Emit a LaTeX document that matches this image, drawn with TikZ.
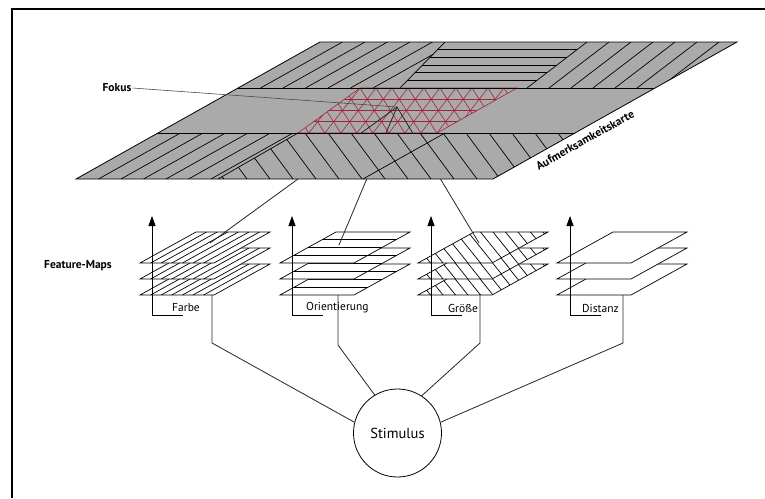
\documentclass[tikz,border=0pt]{standalone}
\usepackage{fontspec}
\setmainfont{PT Sans}
\usetikzlibrary{arrows.meta,calc}
\definecolor{mapgray}{RGB}{170,170,170}
\definecolor{focusred}{RGB}{165,35,55}
\tikzset{
  edge/.style={line width=0.8pt, black},
  stripe/.style={line width=0.7pt, black},
  redline/.style={line width=0.6pt, focusred},
  layer/.style={draw=black, line width=0.7pt},
  conn/.style={line width=0.8pt, black!85},
  uparrow/.style={line width=0.8pt, -{Triangle[width=7pt,length=10pt]}},
  lbl/.style={font=\fontsize{11.5}{13}\selectfont, inner sep=1pt},
  blbl/.style={font=\bfseries\fontsize{11.5}{13}\selectfont, inner sep=1pt},
}
% one feature layer: #1 = x of lower-left corner, #2 = y of lower edge, #3 = stripe code
\newcommand{\fmlayer}[3]{%
  \fill[white] (#1,#2) -- ++(74,0) -- ++(56,-31) -- ++(-74,0) -- cycle;
  \begin{scope}
    \clip (#1,#2) -- ++(74,0) -- ++(56,-31) -- ++(-74,0) -- cycle;
    #3{#1}{#2}
  \end{scope}
  \draw[layer] (#1,#2) -- ++(74,0) -- ++(56,-31) -- ++(-74,0) -- cycle;
}
\newcommand{\slashstripes}[2]{\foreach \k in {1,...,6} \draw[stripe] (#1+\k*10.6,#2) -- ++(56,-31);}
\newcommand{\flatstripes}[2]{\foreach \k in {1,2,3} \draw[stripe] (#1-10,#2-\k*7.75) -- ++(160,0);}
\newcommand{\backstripes}[2]{\foreach \k in {-3,...,11} \draw[stripe] (#1+\k*12.5,#2-31) -- ++(25,31);}
\newcommand{\nostripes}[2]{}
% a stack of three layers
\newcommand{\fmstack}[2]{%
  \fmlayer{#1}{295}{#2}
  \fmlayer{#1}{279}{#2}
  \fmlayer{#1}{263}{#2}
}
\begin{document}
\begin{tikzpicture}[x=1pt,y=-1pt]
\useasboundingbox (0,0) rectangle (765,498);
\fill[white] (0,0) rectangle (765,498);
% frame
\draw[line width=2pt] (11.5,498) -- (11.5,8.5) -- (765,8.5);

% ---------- attention map ----------
\coordinate (TL) at (320,42);
\coordinate (TR) at (737,42);
\coordinate (BR) at (493,179);
\coordinate (BL) at (76,179);
\fill[mapgray] (TL) -- (TR) -- (BR) -- (BL) -- cycle;

% upper band, left part
\begin{scope}
  \clip (320,42) -- (445,42) -- (400,88) -- (238,88) -- cycle;
  \foreach \k in {1,...,6} \draw[stripe] (320+22.5*\k,42) -- ++(-82,46);
\end{scope}
% upper band, horizontal block
\begin{scope}
  \clip (445,42) -- (587,42) -- (527,88) -- (400,88) -- cycle;
  \foreach \k in {1,...,5} \draw[stripe] (380,42+7.67*\k) -- ++(220,0);
\end{scope}
\draw[stripe] (445,42) -- (400,88);
\draw[stripe] (587,42) -- (527,88);
% upper band, right part
\begin{scope}
  \clip (587,42) -- (737,42) -- (655,88) -- (527,88) -- cycle;
  \foreach \k in {1,...,7} \draw[stripe] (587+22*\k,42) -- ++(-60,46);
\end{scope}

% middle band: focus grid (triangular lattice)
\begin{scope}
  \clip (360,88) -- (517,88) -- (437,133) -- (298,133) -- cycle;
  \foreach \k in {1,2,3} \draw[redline] (280,88+11.25*\k) -- ++(260,0);
  \foreach \k in {-1,...,12} \draw[redline] (360+16*\k,88) -- ++(-35.2,45);
  \foreach \k in {-6,...,10} \draw[redline] (360+16*\k,88) -- ++(28.8,45);
\end{scope}
\draw[redline] (360,88) -- (517,88) -- (437,133) -- (298,133) -- cycle;

% lower band, left part
\begin{scope}
  \clip (158,133) -- (298,133) -- (218,179) -- (76,179) -- cycle;
  \foreach \k in {1,...,6} \draw[stripe] (158+22.5*\k,133) -- ++(-82,46);
\end{scope}
% lower band, right part
\begin{scope}
  \clip (298,133) -- (575,133) -- (493,179) -- (218,179) -- cycle;
  \foreach \k in {0,...,17} \draw[stripe] (190+23*\k,133) -- ++(34,46);
\end{scope}
\draw[stripe] (298,133) -- (218,179);
\draw[stripe] (445,133) -- (363,179);

% band borders and outline
\draw[edge] (238,88) -- (655,88);
\draw[edge] (158,133) -- (575,133);
\draw[edge] (TL) -- (TR) -- (BR) -- (BL) -- cycle;

\coordinate (focus) at (397,107);
\node[blbl] (fokus) at (117,88) {Fokus};
\draw[line width=0.6pt, black!70] (fokus.east) -- (focus);

\node[blbl, rotate=29.2] (karte) at (585,140) {Aufmerksamkeitskarte};

% ---------- feature maps ----------
\node[blbl] (fmaps) at (78,266) {Feature-Maps};

\fmstack{140}{\slashstripes}
\fmstack{280}{\flatstripes}
\fmstack{418}{\backstripes}
\fmstack{557}{\nostripes}

% upward arrows and brackets
\foreach \x/\n in {152/a, 292/b, 431/c, 570/d} {
  \coordinate (foot\n) at (\x,315);
  \coordinate (tip\n) at (\x,216);
  \coordinate (bend\n) at (\x+31,315);
  \draw[uparrow] (foot\n) -- (tip\n);
  \draw[line width=0.8pt] (foot\n) -- (bend\n);
}
\node[lbl, anchor=west] (farbe) at (171,308) {Farbe};
\node[lbl, anchor=west] (orient) at (305,308) {Orientierung};
\node[lbl, anchor=west] (groesse) at (447,308) {Größe};
\node[lbl, anchor=west] (distanz) at (581,308) {Distanz};

% connections from the focus to the feature maps
% (hidden where they pass beneath the lower band of the map)
\coordinate (ma) at (210,243);
\coordinate (mb) at (339,245);
\coordinate (mc) at (479,243);
\coordinate (ua) at ($(focus)!0.191!(ma)$);
\coordinate (la) at ($(focus)!0.529!(ma)$);
\coordinate (ub) at ($(focus)!0.188!(mb)$);
\coordinate (lb) at ($(focus)!0.522!(mb)$);
\coordinate (uc) at ($(focus)!0.191!(mc)$);
\coordinate (lc) at ($(focus)!0.529!(mc)$);
\draw[conn] (focus) -- (ua) (la) -- (ma);
\draw[conn] (focus) -- (ub) (lb) -- (mb);
\draw[conn] (focus) -- (uc) (lc) -- (mc);

% ---------- stimulus ----------
\node[circle, draw, line width=0.8pt, minimum size=88pt, inner sep=0pt,
      font=\fontsize{14.5}{17}\selectfont] (stim) at (397.5,433) {Stimulus};
\coordinate (sa) at (212,295); \coordinate (ka) at (212,343);
\coordinate (sb) at (338,295); \coordinate (kb) at (338,345);
\coordinate (sc) at (480,295); \coordinate (kc) at (480,343);
\coordinate (sd) at (623,295); \coordinate (kd) at (623,343);
\draw[conn] (sa) -- (ka) -- (stim.166);
\draw[conn] (sb) -- (kb) -- (stim.121);
\draw[conn] (sc) -- (kc) -- (stim.57);
\draw[conn] (sd) -- (kd) -- (stim.14);
\end{tikzpicture}
\end{document}
